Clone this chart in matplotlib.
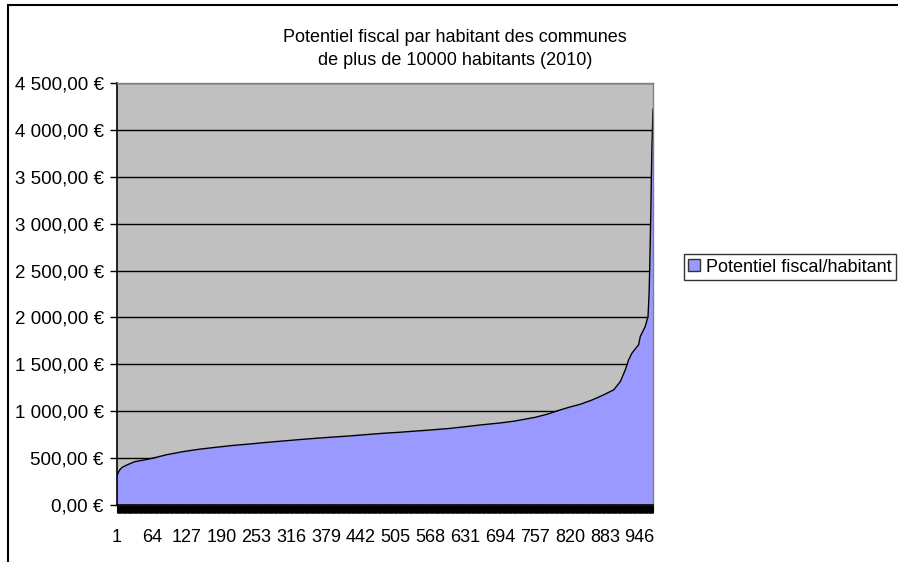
import matplotlib
matplotlib.use("Agg")
import matplotlib.pyplot as plt
from matplotlib.patches import Rectangle, Patch

plt.rcParams['font.family'] = ['Liberation Sans', 'DejaVu Sans']

# Data: rank of commune (sorted ascending) and potentiel fiscal per inhabitant (EUR)
n_communes = 970
ranks = [1, 3, 6, 10, 20, 33, 50, 66, 90, 120, 150, 181, 210, 242, 270, 302, 330,
         362, 390, 423, 450, 483, 513, 540, 568, 600, 631, 660, 694, 720, 757, 780,
         800, 820, 839, 860, 881, 899, 911, 920, 926, 932, 944, 947, 956, 961, 963,
         964, 965, 966, 967, 968, 969, 970]
values = [310, 345, 375, 400, 430, 462, 480, 500, 535, 569, 595, 616, 635, 651, 667,
          683, 697, 712, 724, 737, 750, 765, 776, 788, 800, 815, 835, 855, 875, 895,
          935, 970, 1010, 1045, 1075, 1120, 1175, 1228, 1317, 1442, 1549, 1620, 1709,
          1797, 1904, 2011, 2261, 2510, 2800, 3100, 3471, 3800, 4000, 4219]
x_tick_labels = [1, 64, 127, 190, 253, 316, 379, 442, 505, 568, 631, 694, 757, 820, 883, 946]
y_ticks = [0, 500, 1000, 1500, 2000, 2500, 3000, 3500, 4000, 4500]

title = "Potentiel fiscal par habitant des communes\nde plus de 10000 habitants (2010)"
series_name = "Potentiel fiscal/habitant"

fig = plt.figure(figsize=(8.98, 5.62), dpi=100)
fig.patch.set_facecolor('white')

ax = fig.add_axes([117/898, 1-505/562, (653-117)/898, (505-83)/562])
ax.set_facecolor('#C0C0C0')
ax.set_axisbelow(True)
ax.yaxis.grid(True, color='black', linewidth=1.0, zorder=0.5)
ax.xaxis.grid(False)

ax.fill_between(ranks, values, 0, color='#9999FF', linewidth=0, zorder=1)
ax.plot(ranks, values, color='black', linewidth=1.0, zorder=2)

ax.set_xlim(1, n_communes)
ax.set_ylim(0, 4500)

ax.set_xticks(x_tick_labels)
ax.set_xticklabels([str(v) for v in x_tick_labels])
ax.set_xticks(list(range(1, n_communes + 1)), minor=True)
ax.tick_params(axis='x', which='both', direction='out', length=6, width=0.8,
               color='black', labelsize=13, pad=11)

def fmt(v):
    s = f"{v:,.2f}".replace(",", " ").replace(".", ",")
    return s + " €"

ax.set_yticks(y_ticks)
ax.set_yticklabels([fmt(v) for v in y_ticks])
ax.tick_params(axis='y', direction='out', length=5, width=1, color='black',
               labelsize=13.5, pad=4.5)

for side in ['top', 'right']:
    ax.spines[side].set_color('#808080')
    ax.spines[side].set_linewidth(1)
ax.spines['left'].set_color('black')
ax.spines['left'].set_linewidth(1.2)
ax.spines['bottom'].set_color('black')
ax.spines['bottom'].set_linewidth(1.2)

fig.text(455/898, 1-49/562, title, ha='center', va='center', fontsize=13,
         linespacing=1.5)

leg = fig.legend(handles=[Patch(facecolor='#9999FF', edgecolor='#333333', linewidth=1,
                                label=series_name)],
                 loc='center', bbox_to_anchor=(790/898, 1-267/562), fontsize=13,
                 frameon=True, fancybox=False, handlelength=0.65, handleheight=0.65,
                 handletextpad=0.35, borderpad=0.25, borderaxespad=0)
leg.get_frame().set_edgecolor('black')
leg.get_frame().set_linewidth(1)

# chart area border (right and bottom edges lie outside the image)
fig.add_artist(Rectangle((8/898, -0.1), 1, 1.1 - 5/562, transform=fig.transFigure,
                         fill=False, edgecolor='black', linewidth=1.5))

fig.savefig('out.png', dpi=100)
